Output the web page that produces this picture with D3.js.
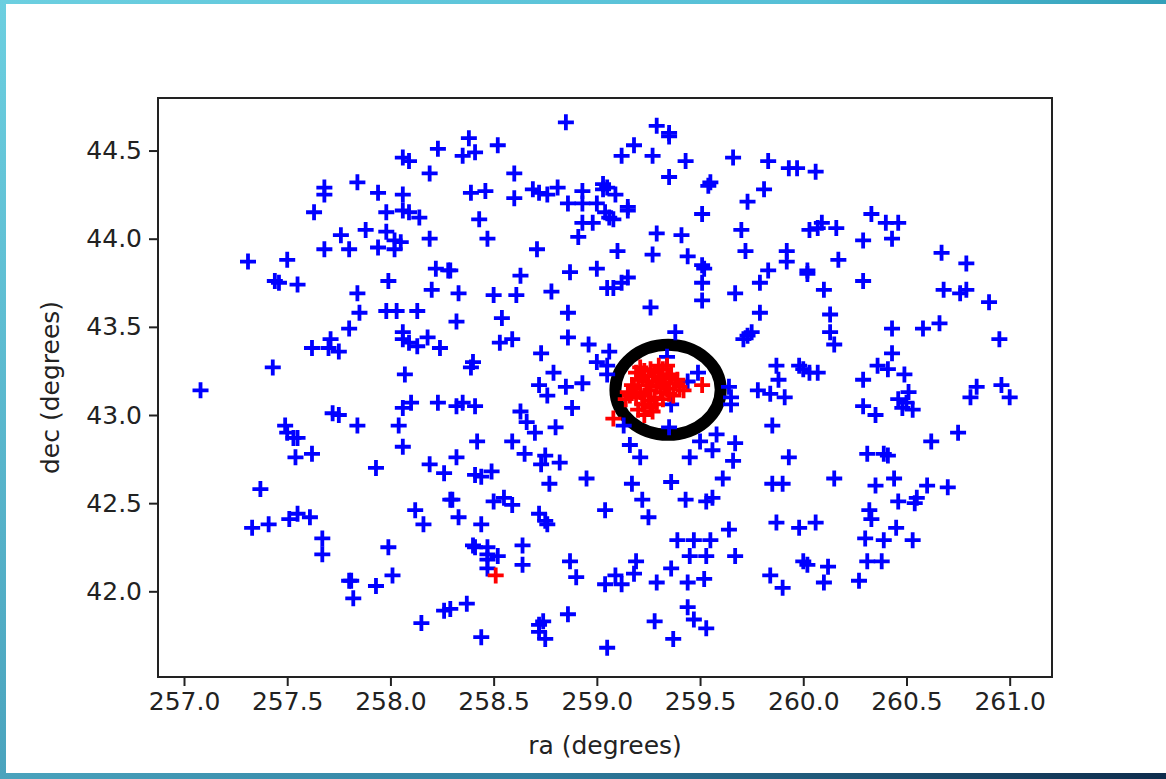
<!DOCTYPE html>
<html>
<head>
<meta charset="utf-8">
<script src="https://cdn.jsdelivr.net/npm/d3@7"></script>
<style>
  body { margin: 0; background: #fff; }
  svg { display: block; }
  .tick text { font-family: "DejaVu Sans", sans-serif; font-size: 25px; fill: #222; }
</style>
</head>
<body>
<script>
// tick labels
var raTicks = [257.0, 257.5, 258.0, 258.5, 259.0, 259.5, 260.0, 260.5, 261.0];
var decTicks = [42.0, 42.5, 43.0, 43.5, 44.0, 44.5];

// field stars [ra, dec]
var blueStars = [
  [258.23,44.51],[258.35,44.47],[258.06,44.46],[258.09,44.44],[258.19,44.37],[257.68,44.29],[257.68,44.25],[257.84,44.32],[257.94,44.26],[258.06,44.25],
  [257.63,44.15],[257.98,44.15],[258.06,44.16],[258.09,44.15],[258.14,44.12],[257.76,44.02],[257.88,44.05],[257.98,44.04],[258.02,43.99],[258.05,43.98],
  [258.19,44.00],[257.68,43.94],[257.80,43.94],[257.94,43.95],[258.02,43.94],[257.31,43.87],[257.50,43.88],[257.44,43.76],[257.46,43.75],[257.55,43.74],
  [257.99,43.76],[258.22,43.83],[258.28,43.82],[258.20,43.71],[257.84,43.69],[258.33,43.69],
  [258.85,44.66],[259.29,44.64],[259.35,44.60],[259.35,44.58],[258.38,44.57],[258.41,44.49],[258.52,44.53],[259.18,44.53],[259.12,44.47],[259.27,44.47],
  [259.43,44.44],[259.66,44.46],[258.60,44.37],[259.35,44.35],[259.55,44.32],[259.54,44.30],[258.39,44.26],[258.46,44.27],[258.69,44.28],[258.72,44.26],
  [258.76,44.25],[258.81,44.29],[258.60,44.23],[258.93,44.27],[259.03,44.31],[259.03,44.28],[259.05,44.29],[259.09,44.25],[258.86,44.20],[258.93,44.20],
  [259.00,44.20],[259.15,44.18],[259.15,44.16],[259.04,44.15],[259.06,44.12],[259.08,44.11],[258.93,44.09],[258.98,44.09],[258.91,44.01],[259.73,44.21],
  [258.43,44.11],[258.47,44.00],[259.51,44.14],[259.29,44.03],[259.41,44.02],[259.70,44.05],[258.71,43.94],[259.10,43.93],[259.27,43.91],[259.44,43.90],
  [259.72,43.93],[258.29,43.82],[259.00,43.83],[259.51,43.85],[259.52,43.83],[259.51,43.75],[258.63,43.79],[258.87,43.81],[259.15,43.78],[259.12,43.75],
  [259.05,43.72],[259.08,43.72],[258.78,43.70],[258.50,43.68],[258.61,43.68],[259.67,43.69],
  [259.83,44.44],[259.93,44.40],[259.97,44.40],[260.06,44.38],[259.81,44.28],[260.33,44.14],[260.40,44.09],[260.46,44.09],[260.43,44.00],[260.29,43.99],
  [260.03,44.05],[260.07,44.06],[260.09,44.09],[260.16,44.06],[259.92,43.93],[259.92,43.87],[259.83,43.82],[259.79,43.75],[260.02,43.82],[260.02,43.80],
  [260.17,43.88],[260.10,43.71],[260.29,43.76],[260.67,43.92],[260.79,43.86],[260.68,43.71],[260.76,43.69],[260.79,43.71],
  [260.90,43.64],[259.79,43.58],[260.13,43.57],[260.13,43.47],[260.15,43.40],[259.75,43.47],[260.43,43.49],[260.58,43.49],[260.66,43.52],[260.95,43.43],
  [260.43,43.35],[259.87,43.28],[259.98,43.28],[260.00,43.26],[260.03,43.24],[260.07,43.24],[260.36,43.28],[260.41,43.26],[260.49,43.23],[259.88,43.20],
  [260.29,43.20],[259.78,43.14],[259.84,43.12],[259.91,43.10],[260.51,43.13],[260.46,43.09],[260.48,43.04],[260.53,43.03],[260.50,43.07],[260.29,43.05],
  [260.35,43.00],[260.84,43.16],[260.81,43.10],[260.96,43.17],[261.00,43.10],[259.85,42.94],[260.75,42.90],[260.62,42.85],[259.93,42.76],[260.31,42.78],
  [260.39,42.78],[260.41,42.77],[259.85,42.61],[259.90,42.61],[260.15,42.64],[260.35,42.60],[260.44,42.64],[260.60,42.60],[260.70,42.59],
  [260.55,42.53],[260.46,42.51],[260.54,42.50],[260.32,42.46],[260.33,42.41],[259.87,42.39],[259.98,42.36],[260.06,42.39],[260.45,42.36],[260.30,42.30],
  [260.39,42.29],[260.53,42.29],[260.00,42.17],[260.02,42.15],[260.12,42.14],[259.84,42.09],[259.90,42.02],[260.10,42.05],[260.31,42.17],[260.38,42.17],[260.27,42.06],
  [258.30,42.52],[258.50,42.51],[258.55,42.53],[258.59,42.49],[258.72,42.44],[258.75,42.40],[258.76,42.38],[259.04,42.46],[259.22,42.52],[259.25,42.42],
  [259.43,42.52],[259.53,42.51],[259.56,42.53],[258.33,42.42],[258.44,42.38],[259.64,42.35],[258.40,42.26],[258.41,42.25],[258.47,42.25],[258.47,42.21],
  [258.52,42.20],[258.47,42.18],[258.47,42.13],[258.64,42.26],[258.64,42.15],[258.87,42.17],[258.90,42.08],[259.04,42.04],[259.09,42.09],[259.12,42.04],
  [259.19,42.17],[259.18,42.10],[259.29,42.05],[259.36,42.13],[259.39,42.29],[259.47,42.29],[259.55,42.29],[259.45,42.20],[259.53,42.20],[259.67,42.20],
  [259.44,42.05],[259.52,42.07],[258.37,41.93],[258.29,41.90],[258.86,41.87],[258.72,41.81],[258.72,41.77],[258.75,41.73],[258.74,41.83],[258.44,41.74],
  [259.05,41.68],[259.28,41.83],[259.44,41.91],[259.47,41.84],[259.53,41.79],[259.37,41.73],
  [257.37,42.58],[257.33,42.36],[257.41,42.38],[257.51,42.41],[257.55,42.44],[257.61,42.42],[257.67,42.30],[257.67,42.21],[257.80,42.06],[257.81,42.06],
  [257.82,41.96],[257.93,42.03],[257.99,42.25],[258.01,42.09],[258.12,42.46],[258.16,42.38],[258.29,42.52],[258.26,41.89],[258.15,41.82],
  [257.85,43.58],[257.98,43.59],[258.03,43.59],[258.13,43.59],[258.32,43.53],[257.80,43.49],[258.06,43.47],[258.06,43.43],[258.09,43.41],[258.13,43.39],
  [258.18,43.44],[258.24,43.38],[257.71,43.43],[257.75,43.36],[257.70,43.38],[257.62,43.38],[257.43,43.27],[257.08,43.14],[258.07,43.23],[258.10,43.07],
  [258.06,43.04],[258.23,43.07],[258.32,43.05],[257.72,43.01],[257.75,43.00],[257.84,42.94],[258.04,42.94],[257.49,42.94],[257.50,42.90],[257.55,42.87],
  [257.53,42.87],[257.62,42.78],[257.54,42.76],[258.06,42.82],[257.93,42.70],[258.19,42.72],[258.26,42.67],[258.32,42.76],
  [259.51,43.65],[258.54,43.55],[258.86,43.58],[259.26,43.61],[258.53,43.41],[258.59,43.43],[258.86,43.44],[258.73,43.35],[258.96,43.40],[259.06,43.36],
  [259.00,43.30],[259.05,43.28],[259.05,43.23],[259.38,43.47],[259.73,43.45],[259.71,43.43],[259.34,43.33],[258.40,43.30],[258.39,43.27],[258.79,43.24],
  [258.85,43.16],[258.72,43.17],[258.76,43.11],[258.93,43.18],[259.49,43.24],[259.44,43.19],[259.64,43.16],[259.65,43.10],[259.65,43.06],[258.41,43.05],
  [258.35,43.07],[258.63,43.02],[258.66,42.96],[258.70,42.90],[258.88,43.04],[258.80,42.93],[259.13,42.94],[258.42,42.85],[258.59,42.85],[258.65,42.78],
  [258.75,42.77],[258.73,42.72],[258.82,42.73],[258.49,42.68],[258.44,42.65],[258.41,42.66],[259.16,42.83],[259.21,42.76],[259.35,42.93],[259.45,42.76],
  [259.50,42.85],[259.58,42.89],[259.56,42.80],[259.67,42.84],[259.66,42.74],[258.95,42.64],[259.17,42.61],[259.36,42.62],[259.61,42.64],[258.77,42.61],[259.36,43.06]
];

// cluster members [ra, dec]
var redStars = [
  [259.21,43.27],[259.23,43.25],[259.26,43.26],[259.32,43.26],[259.34,43.28],[259.36,43.23],[259.17,43.17],[259.15,43.13],[259.20,43.20],[259.25,43.17],
  [259.30,43.19],[259.34,43.15],[259.38,43.18],[259.42,43.14],[259.37,43.11],[259.19,43.10],[259.23,43.11],[259.28,43.10],[259.32,43.09],[259.22,43.06],
  [259.26,43.04],[259.23,43.00],[259.27,43.02],[259.16,43.11],[259.31,43.21],[259.35,43.12],[259.51,43.17],[259.08,42.98],[258.51,42.09],
  [259.22,43.22],[259.27,43.22],[259.18,43.15],[259.21,43.13],[259.26,43.14],[259.29,43.16],[259.24,43.19],[259.33,43.18],[259.40,43.16],[259.29,43.06],
  [259.25,43.08],[259.20,43.03],[259.30,43.28],[259.19,43.24],[259.35,43.21],[259.28,43.24],[259.14,43.09],[259.31,43.13],[259.39,43.20]
];

// cluster circle: centre [ra, dec] and radius in degrees
var clusterCentre = [259.345, 43.143];
var clusterRadius = 0.255;

const W = 1166, H = 779;
const margin = { top: 98, right: 114, bottom: 102, left: 158 };
const w = W - margin.left - margin.right;
const h = H - margin.top - margin.bottom;

var svg = d3.select("body").append("svg")
  .attr("width", W)
  .attr("height", H);

// slide frame strips
var defs = svg.append("defs");
var gTop = defs.append("linearGradient").attr("id", "gTop");
gTop.append("stop").attr("offset", "0%").attr("stop-color", "#6ccfe0");
gTop.append("stop").attr("offset", "70%").attr("stop-color", "#55bfd6");
gTop.append("stop").attr("offset", "100%").attr("stop-color", "#33a0b9");
var gLeft = defs.append("linearGradient").attr("id", "gLeft")
  .attr("x1", 0).attr("y1", 0).attr("x2", 0).attr("y2", 1);
gLeft.append("stop").attr("offset", "0%").attr("stop-color", "#6ccfe0");
gLeft.append("stop").attr("offset", "100%").attr("stop-color", "#4aa3bd");
var gBot = defs.append("linearGradient").attr("id", "gBot");
gBot.append("stop").attr("offset", "0%").attr("stop-color", "#4aa3bd");
gBot.append("stop").attr("offset", "45%").attr("stop-color", "#2f7fa0");
gBot.append("stop").attr("offset", "100%").attr("stop-color", "#0e2c4c");

svg.append("rect").attr("x", 0).attr("y", 0).attr("width", W).attr("height", 4).attr("fill", "url(#gTop)");
svg.append("rect").attr("x", 0).attr("y", 0).attr("width", 6).attr("height", H).attr("fill", "url(#gLeft)");
svg.append("rect").attr("x", 0).attr("y", 773).attr("width", W).attr("height", 6).attr("fill", "url(#gBot)");

var g = svg.append("g")
  .attr("transform", "translate(" + margin.left + "," + margin.top + ")");

const xScale = d3.scaleLinear().domain([256.874, 261.205]).range([0, w]);
const yScale = d3.scaleLinear().domain([41.514, 44.798]).range([h, 0]);

// circle around the cluster
var cx = xScale(clusterCentre[0]), cy = yScale(clusterCentre[1]);
g.append("ellipse")
  .attr("cx", cx)
  .attr("cy", cy)
  .attr("rx", xScale(clusterCentre[0] + clusterRadius) - cx)
  .attr("ry", cy - yScale(clusterCentre[1] + clusterRadius))
  .attr("fill", "none")
  .attr("stroke", "#000")
  .attr("stroke-width", 12);

function plus(sel, data, color) {
  var s = 8;
  sel.selectAll(null)
    .data(data)
    .enter()
    .append("path")
    .attr("d", d => {
      var px = xScale(d[0]), py = yScale(d[1]);
      return "M" + (px - s) + "," + py + "H" + (px + s) + "M" + px + "," + (py - s) + "V" + (py + s);
    })
    .attr("stroke", color)
    .attr("stroke-width", 3.8)
    .attr("fill", "none");
}

plus(g.append("g"), blueStars, "#0000ff");
plus(g.append("g"), redStars, "#ff0000");

// axes
var xAxis = d3.axisBottom(xScale).tickValues(raTicks).tickFormat(d3.format(".1f")).tickSize(9).tickPadding(6);
var yAxis = d3.axisLeft(yScale).tickValues(decTicks).tickFormat(d3.format(".1f")).tickSize(9).tickPadding(7);

var gx = g.append("g").attr("transform", "translate(0," + h + ")").call(xAxis);
var gy = g.append("g").call(yAxis);
[gx, gy].forEach(a => {
  a.select(".domain").remove();
  a.selectAll(".tick line").attr("stroke", "#222").attr("stroke-width", 2);
});

g.append("rect")
  .attr("width", w)
  .attr("height", h)
  .attr("fill", "none")
  .attr("stroke", "#222")
  .attr("stroke-width", 2);

svg.append("text")
  .attr("x", margin.left + w / 2)
  .attr("y", 754)
  .attr("text-anchor", "middle")
  .attr("font-family", "DejaVu Sans, sans-serif")
  .attr("font-size", 25)
  .attr("fill", "#222")
  .text("ra (degrees)");

svg.append("text")
  .attr("transform", "translate(59," + (margin.top + h / 2) + ") rotate(-90)")
  .attr("text-anchor", "middle")
  .attr("font-family", "DejaVu Sans, sans-serif")
  .attr("font-size", 25)
  .attr("fill", "#222")
  .text("dec (degrees)");
</script>
</body>
</html>
